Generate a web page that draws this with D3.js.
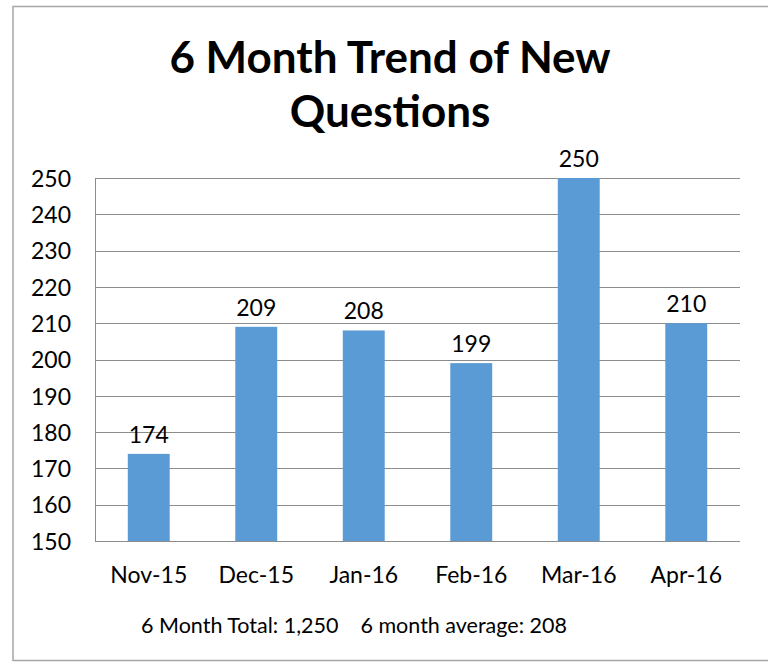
<!DOCTYPE html>
<html>
<head>
<meta charset="utf-8">
<script src="https://cdn.jsdelivr.net/npm/d3@7"></script>
<style>
  body { margin: 0; background: #fff; }
  text { font-family: Lato, "Open Sans", sans-serif; fill: #000; }
</style>
</head>
<body>
<svg></svg>
<script>
let months = ["Nov-15", "Dec-15", "Jan-16", "Feb-16", "Mar-16", "Apr-16"];
let questions = [174, 209, 208, 199, 250, 210];
let yTicks = [150, 160, 170, 180, 190, 200, 210, 220, 230, 240, 250];
let titleLines = ["6 Month Trend of New", "Questions"];
let footer = "6 Month Total: 1,250    6 month average: 208";

let width = 768;
let height = 665;
let plotLeft = 95;
let plotRight = 740;
let plotTop = 178;
let plotBottom = 541;

let svg = d3.select("svg").attr("width", width).attr("height", height);

// outer chart border
svg.append("rect")
  .attr("x", 13).attr("y", 6.5)
  .attr("width", 780).attr("height", 654)
  .attr("fill", "none").attr("stroke", "#a6a6a6").attr("stroke-width", 1.5);

let xScale = d3.scaleBand().domain(months).range([plotLeft, plotRight]);
let yScale = d3.scaleLinear().domain([150, 250]).range([plotBottom, plotTop]);

// title
svg.append("text")
  .attr("x", 390).attr("y", 73)
  .attr("text-anchor", "middle")
  .style("font-size", "44px").style("font-weight", "bold")
  .selectAll("tspan")
  .data(titleLines)
  .enter()
  .append("tspan")
  .attr("x", 390)
  .attr("dy", (d, i) => (i == 0 ? 0 : 54))
  .text((d) => d);

// gridlines
svg.append("g")
  .selectAll("line")
  .data(yTicks)
  .enter()
  .append("line")
  .attr("x1", plotLeft).attr("x2", plotRight)
  .attr("y1", (d) => Math.round(yScale(d)) + 0.5)
  .attr("y2", (d) => Math.round(yScale(d)) + 0.5)
  .attr("stroke", "#8c8c8c").attr("stroke-width", 1);

// y axis
let yAxis = d3.axisLeft(yScale).tickValues(yTicks).tickSize(0).tickPadding(24);
let yg = svg.append("g")
  .attr("transform", "translate(" + plotLeft + ",0)")
  .call(yAxis);
yg.select(".domain").attr("stroke", "#8c8c8c").attr("d", "M0.5," + plotTop + "V" + plotBottom);
yg.selectAll("text").style("font-size", "23px").attr("dy", "0.36em");

// x axis
let xAxis = d3.axisBottom(xScale).tickSize(0).tickPadding(26);
let xg = svg.append("g")
  .attr("transform", "translate(0," + plotBottom + ")")
  .call(xAxis);
xg.select(".domain").remove();
xg.selectAll("text").style("font-size", "23px").attr("dy", "0.71em");

// bars
let barW = xScale.bandwidth() * 0.39;
svg.append("g")
  .selectAll("rect")
  .data(questions)
  .enter()
  .append("rect")
  .attr("x", (d, i) => xScale(months[i]) + xScale.bandwidth() / 2 - barW / 2)
  .attr("y", (d) => yScale(d))
  .attr("width", barW)
  .attr("height", (d) => yScale(150) - yScale(d))
  .attr("fill", "#5b9bd5");

// data labels
svg.append("g")
  .selectAll("text")
  .data(questions)
  .enter()
  .append("text")
  .attr("x", (d, i) => xScale(months[i]) + xScale.bandwidth() / 2)
  .attr("y", (d) => yScale(d) - 11)
  .attr("text-anchor", "middle")
  .style("font-size", "23px")
  .text((d) => d);

// footer
svg.append("text")
  .attr("x", 354).attr("y", 633)
  .attr("text-anchor", "middle")
  .style("font-size", "21.5px")
  .style("white-space", "pre")
  .attr("xml:space", "preserve")
  .text(footer);
</script>
</body>
</html>
